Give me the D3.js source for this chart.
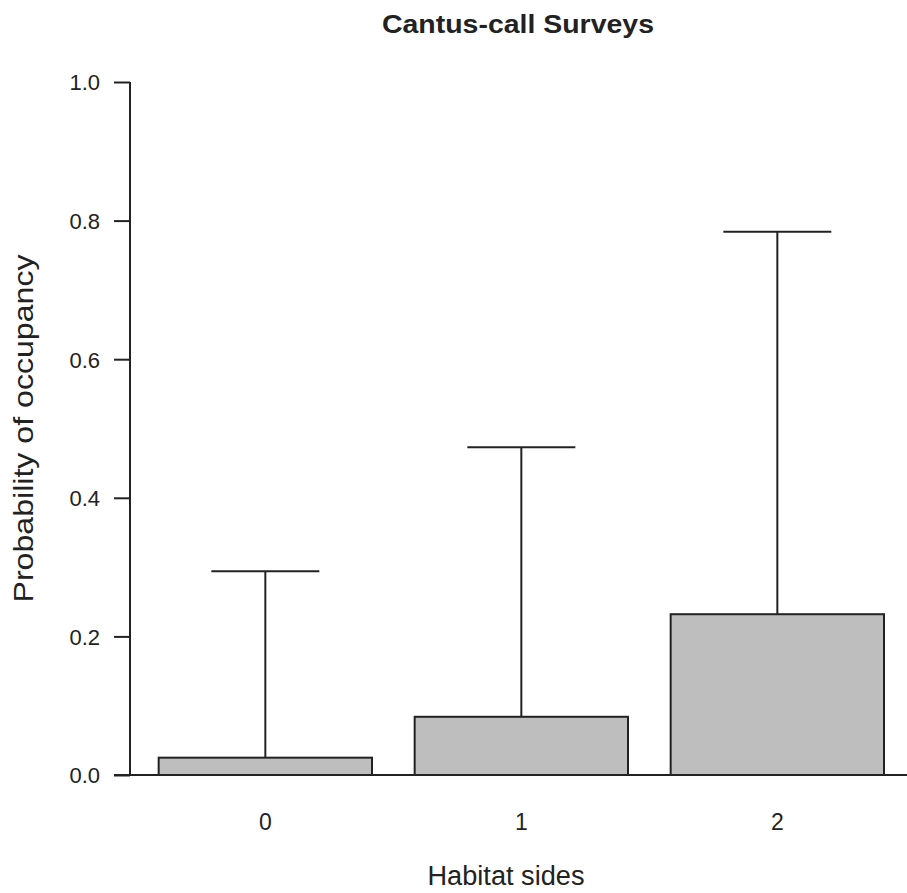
<!DOCTYPE html>
<html>
<head>
<meta charset="utf-8">
<script src="https://cdn.jsdelivr.net/npm/d3@7"></script>
<style>
  body { margin: 0; background: #fff; }
  text { font-family: "Liberation Sans", Arial, sans-serif; fill: #222; }
</style>
</head>
<body>
<svg id="chart"></svg>
<script>
// values
var categories = ["0", "1", "2"];
var occupancy = [0.025, 0.084, 0.232];
var upperCI = [0.294, 0.473, 0.784];
var yTicks = [0.0, 0.2, 0.4, 0.6, 0.8, 1.0];

var W = 907, H = 893;

var svg = d3.select("#chart")
    .attr("width", W)
    .attr("height", H);

// bar units like R barplot: width 1, space 0.2
var xScale = d3.scaleLinear().domain([0, 3.6]).range([116, 884]);
var yScale = d3.scaleLinear().domain([0, 1]).range([775, 82]);

// title
svg.append("text")
    .attr("x", 518)
    .attr("y", 33)
    .attr("text-anchor", "middle")
    .attr("textLength", 272)
    .attr("lengthAdjust", "spacingAndGlyphs")
    .style("font-size", "25px")
    .style("font-weight", "bold")
    .text("Cantus-call Surveys");

// y axis
var yAxis = svg.append("g")
    .attr("transform", "translate(130,0)")
    .call(d3.axisLeft(yScale)
        .tickValues(yTicks)
        .tickSize(16)
        .tickPadding(14)
        .tickFormat(d3.format(".1f")));
yAxis.select(".domain").attr("stroke", "#222").attr("stroke-width", 2).attr("d", "M0," + yScale(1) + "V" + yScale(0));
yAxis.selectAll(".tick line").attr("stroke", "#222").attr("stroke-width", 2);
yAxis.selectAll(".tick text")
    .style("font-size", "22px")
    .attr("fill", "#222")
    .attr("dy", "0.36em");

// bars
svg.append("g").selectAll("rect")
    .data(occupancy)
    .enter()
    .append("rect")
    .attr("x", function(d, i) { return xScale(i * 1.2 + 0.2); })
    .attr("width", function(d, i) { return xScale(1.2) - xScale(0.2); })
    .attr("y", function(d) { return yScale(d); })
    .attr("height", function(d) { return yScale(0) - yScale(d); })
    .attr("fill", "#bebebe")
    .attr("stroke", "#222")
    .attr("stroke-width", 2);

// baseline
svg.append("line")
    .attr("x1", 114).attr("x2", W)
    .attr("y1", yScale(0)).attr("y2", yScale(0))
    .attr("stroke", "#222")
    .attr("stroke-width", 2);

// error bars (upper only)
var err = svg.append("g");
err.selectAll(".stem")
    .data(upperCI)
    .enter()
    .append("line")
    .attr("class", "stem")
    .attr("x1", function(d, i) { return xScale(i * 1.2 + 0.7); })
    .attr("x2", function(d, i) { return xScale(i * 1.2 + 0.7); })
    .attr("y1", function(d, i) { return yScale(occupancy[i]); })
    .attr("y2", function(d) { return yScale(d); })
    .attr("stroke", "#222")
    .attr("stroke-width", 2);

err.selectAll(".cap")
    .data(upperCI)
    .enter()
    .append("line")
    .attr("class", "cap")
    .attr("x1", function(d, i) { return xScale(i * 1.2 + 0.7) - 54; })
    .attr("x2", function(d, i) { return xScale(i * 1.2 + 0.7) + 54; })
    .attr("y1", function(d) { return yScale(d); })
    .attr("y2", function(d) { return yScale(d); })
    .attr("stroke", "#222")
    .attr("stroke-width", 2);

// category labels
svg.append("g").selectAll("text")
    .data(categories)
    .enter()
    .append("text")
    .attr("x", function(d, i) { return xScale(i * 1.2 + 0.7); })
    .attr("y", 830)
    .attr("text-anchor", "middle")
    .style("font-size", "23px")
    .text(function(d) { return d; });

// axis titles
svg.append("text")
    .attr("x", 506)
    .attr("y", 885)
    .attr("text-anchor", "middle")
    .attr("textLength", 157)
    .attr("lengthAdjust", "spacingAndGlyphs")
    .style("font-size", "27px")
    .text("Habitat sides");

svg.append("text")
    .attr("transform", "translate(33," + ((yScale(0) + yScale(1)) / 2) + ") rotate(-90)")
    .attr("text-anchor", "middle")
    .attr("textLength", 348)
    .attr("lengthAdjust", "spacingAndGlyphs")
    .style("font-size", "28px")
    .text("Probability of occupancy");
</script>
</body>
</html>
